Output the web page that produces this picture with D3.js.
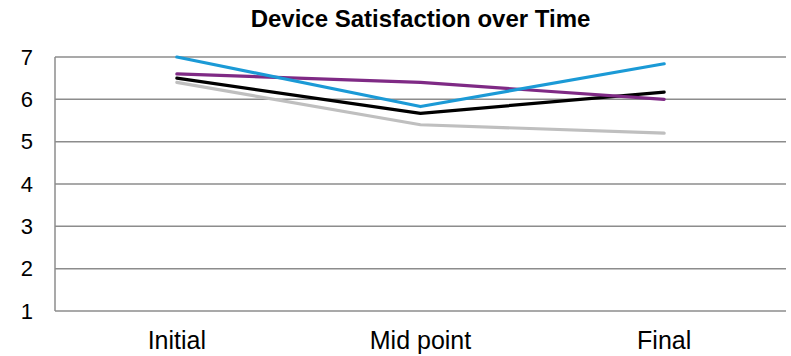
<!DOCTYPE html>
<html>
<head>
<meta charset="utf-8">
<script src="https://cdn.jsdelivr.net/npm/d3@7"></script>
<style>
  html, body { margin: 0; padding: 0; background: #fff; }
  svg { display: block; font-family: "Liberation Sans", Arial, sans-serif; }
</style>
</head>
<body>
<svg id="chart" width="791" height="356"></svg>
<script>
const title = "Device Satisfaction over Time";
const categories = ["Initial", "Mid point", "Final"];
const yTicks = [1, 2, 3, 4, 5, 6, 7];
const seriesNames = ["Series A", "Series B", "Series C", "Series D"];
const seriesA = [6.40, 5.40, 5.20];   // grey
const seriesB = [6.50, 5.67, 6.17];   // black
const seriesC = [6.60, 6.40, 6.00];   // purple
const seriesD = [7.00, 5.83, 6.84];   // blue
const seriesColors = ["#bfbfbf", "#000000", "#7f2a85", "#1b9ad6"];

const seriesValues = [seriesA, seriesB, seriesC, seriesD];

const W = 791, H = 356;
const margin = { left: 55, right: 5, top: 57, bottom: 45 };
const svg = d3.select("#chart");

const x = d3.scaleBand().domain(categories).range([margin.left, W - margin.right]);
const y = d3.scaleLinear().domain([1, 7]).range([H - margin.bottom, margin.top]);

// gridlines
svg.append("g").selectAll("line").data(yTicks).join("line")
  .attr("x1", margin.left).attr("x2", W - margin.right)
  .attr("y1", d => y(d)).attr("y2", d => y(d))
  .attr("stroke", "#8c8c8c").attr("stroke-width", 1.5);

// left axis line
svg.append("line")
  .attr("x1", margin.left).attr("x2", margin.left)
  .attr("y1", y(7)).attr("y2", y(1))
  .attr("stroke", "#8c8c8c").attr("stroke-width", 1.5);

// y labels
const yAxis = d3.axisLeft(y).tickValues(yTicks).tickSize(0).tickPadding(22).tickFormat(d3.format("d"));
const gy = svg.append("g").attr("transform", `translate(${margin.left},0)`).call(yAxis);
gy.select(".domain").remove();
gy.selectAll("text").attr("font-size", 22).attr("fill", "#000")
  .attr("font-family", "'Liberation Sans', Arial, sans-serif");

// x labels
const xAxis = d3.axisBottom(x).tickSize(0).tickPadding(20);
const gx = svg.append("g").attr("transform", `translate(0,${y(1)})`).call(xAxis);
gx.select(".domain").remove();
gx.selectAll("text").attr("font-size", 25).attr("fill", "#000")
  .attr("font-family", "'Liberation Sans', Arial, sans-serif");

// lines
const line = d3.line()
  .x((d, i) => x(categories[i]) + x.bandwidth() / 2)
  .y(d => y(d));

svg.append("g").selectAll("path").data(seriesValues).join("path")
  .attr("d", d => line(d))
  .attr("fill", "none")
  .attr("stroke", (d, i) => seriesColors[i])
  .attr("stroke-width", 3.2)
  .attr("stroke-linejoin", "round")
  .attr("stroke-linecap", "round");

// title
svg.append("text")
  .attr("x", (margin.left + W - margin.right) / 2).attr("y", 27)
  .attr("text-anchor", "middle")
  .attr("font-size", 24).attr("font-weight", "bold")
  .attr("font-family", "'Liberation Sans', Arial, sans-serif")
  .text(title);
</script>
</body>
</html>
